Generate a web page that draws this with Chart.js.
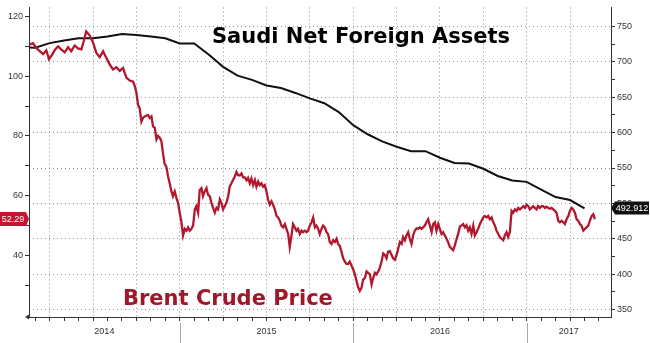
<!DOCTYPE html>
<html>
<head>
<meta charset="utf-8">
<title>Saudi Net Foreign Assets vs Brent Crude Price</title>
<script src="https://cdn.jsdelivr.net/npm/chart.js@4.4.1/dist/chart.umd.min.js"></script>
<style>
  html, body { margin: 0; padding: 0; background: #fff; }
  #wrap { width: 650px; height: 343px; }
</style>
</head>
<body>
<div id="wrap"><canvas id="chart" width="650" height="343"></canvas></div>
<script>
// Brent crude, daily closes thinned out (decimal year -> USD/bbl)
const brentTime = [
  2014.132, 2014.154, 2014.174, 2014.193, 2014.212, 2014.231, 2014.246, 2014.262, 2014.279, 2014.298, 2014.318, 2014.337,
  2014.356, 2014.375, 2014.394, 2014.413, 2014.433, 2014.446, 2014.461, 2014.481, 2014.500, 2014.520, 2014.539, 2014.558,
  2014.577, 2014.596, 2014.615, 2014.635, 2014.654, 2014.673, 2014.693, 2014.712, 2014.731, 2014.740, 2014.750, 2014.760,
  2014.769, 2014.779, 2014.788, 2014.798, 2014.817, 2014.827, 2014.837, 2014.846, 2014.856, 2014.866, 2014.875, 2014.885,
  2014.894, 2014.904, 2014.913, 2014.923, 2014.933, 2014.942, 2014.952, 2014.961, 2014.971, 2014.981, 2014.990, 2015.000,
  2015.010, 2015.019, 2015.029, 2015.039, 2015.048, 2015.058, 2015.067, 2015.077, 2015.087, 2015.096, 2015.106, 2015.115,
  2015.125, 2015.134, 2015.144, 2015.154, 2015.163, 2015.173, 2015.183, 2015.192, 2015.202, 2015.212, 2015.221, 2015.231,
  2015.240, 2015.250, 2015.260, 2015.269, 2015.279, 2015.288, 2015.298, 2015.307, 2015.317, 2015.327, 2015.336, 2015.346,
  2015.356, 2015.365, 2015.375, 2015.385, 2015.394, 2015.404, 2015.413, 2015.423, 2015.433, 2015.442, 2015.452, 2015.461,
  2015.471, 2015.480, 2015.490, 2015.500, 2015.509, 2015.519, 2015.529, 2015.538, 2015.548, 2015.558, 2015.567, 2015.577,
  2015.586, 2015.596, 2015.606, 2015.615, 2015.625, 2015.634, 2015.644, 2015.653, 2015.663, 2015.673, 2015.682, 2015.692,
  2015.702, 2015.711, 2015.721, 2015.731, 2015.740, 2015.750, 2015.760, 2015.769, 2015.779, 2015.788, 2015.798, 2015.807,
  2015.817, 2015.826, 2015.836, 2015.846, 2015.855, 2015.865, 2015.875, 2015.884, 2015.894, 2015.904, 2015.913, 2015.923,
  2015.932, 2015.942, 2015.952, 2015.961, 2015.971, 2015.980, 2015.990, 2015.999, 2016.009, 2016.019, 2016.028, 2016.038,
  2016.048, 2016.057, 2016.067, 2016.077, 2016.086, 2016.096, 2016.106, 2016.115, 2016.125, 2016.134, 2016.144, 2016.153,
  2016.163, 2016.173, 2016.182, 2016.192, 2016.201, 2016.211, 2016.221, 2016.230, 2016.240, 2016.250, 2016.259, 2016.269,
  2016.279, 2016.288, 2016.298, 2016.307, 2016.317, 2016.326, 2016.336, 2016.345, 2016.355, 2016.365, 2016.374, 2016.384,
  2016.394, 2016.403, 2016.413, 2016.422, 2016.432, 2016.442, 2016.452, 2016.461, 2016.471, 2016.480, 2016.490, 2016.499,
  2016.509, 2016.518, 2016.528, 2016.538, 2016.547, 2016.557, 2016.567, 2016.576, 2016.586, 2016.596, 2016.605, 2016.615,
  2016.624, 2016.634, 2016.644, 2016.653, 2016.663, 2016.672, 2016.682, 2016.692, 2016.701, 2016.711, 2016.720, 2016.730,
  2016.740, 2016.749, 2016.759, 2016.769, 2016.778, 2016.788, 2016.798, 2016.807, 2016.817, 2016.826, 2016.836, 2016.845,
  2016.855, 2016.865, 2016.874, 2016.884, 2016.893, 2016.903, 2016.913, 2016.922, 2016.932, 2016.942, 2016.951, 2016.961,
  2016.971, 2016.980, 2016.990, 2017.000, 2017.009, 2017.018, 2017.028, 2017.038, 2017.047, 2017.057, 2017.066, 2017.076,
  2017.086, 2017.095, 2017.105, 2017.115, 2017.124, 2017.134, 2017.144, 2017.153, 2017.163, 2017.172, 2017.182, 2017.191,
  2017.201, 2017.211, 2017.220, 2017.230, 2017.240, 2017.249, 2017.259, 2017.268, 2017.278, 2017.288, 2017.297, 2017.307,
  2017.316, 2017.326, 2017.336, 2017.345, 2017.355, 2017.364, 2017.374, 2017.384, 2017.393
];
const brentPrice = [
  110.5, 111.0, 109.3, 108.3, 107.3, 108.6, 105.6, 106.9, 108.6, 109.9, 108.8, 107.9,
  109.6, 108.3, 110.2, 109.2, 108.9, 111.5, 114.9, 113.5, 111.2, 107.6, 106.3, 108.3,
  106.0, 103.9, 102.2, 102.9, 101.7, 102.7, 99.4, 98.5, 98.1, 96.8, 94.5, 90.3,
  89.2, 84.8, 86.0, 86.5, 87.0, 86.0, 86.5, 83.2, 82.7, 78.9, 80.0, 79.4,
  78.3, 74.0, 70.7, 69.7, 66.4, 64.2, 61.5, 59.9, 61.5, 59.3, 57.7, 54.4,
  51.2, 46.8, 49.0, 48.4, 49.5, 48.4, 49.0, 50.1, 55.5, 56.6, 54.4, 62.0,
  62.6, 59.9, 61.5, 62.6, 60.4, 59.9, 57.7, 56.0, 54.4, 56.0, 55.5, 58.8,
  57.7, 55.5, 56.6, 57.7, 59.9, 63.1, 64.2, 65.3, 66.4, 68.0, 66.9, 66.8,
  67.5, 66.2, 66.2, 65.2, 66.0, 64.2, 65.8, 63.6, 65.3, 63.1, 64.8, 63.6,
  64.2, 63.1, 63.6, 61.5, 58.8, 57.1, 58.2, 57.1, 55.5, 53.3, 52.8, 51.7,
  50.1, 49.5, 50.6, 49.0, 47.3, 43.0, 46.8, 50.6, 49.5, 48.4, 49.0, 47.3,
  48.4, 47.9, 48.4, 47.9, 48.4, 50.1, 51.2, 52.8, 49.5, 50.1, 49.0, 47.3,
  49.0, 50.1, 49.5, 47.9, 47.3, 44.6, 44.0, 45.2, 44.6, 45.7, 44.0, 43.3,
  41.4, 39.2, 38.1, 37.3, 37.3, 38.1, 36.8, 35.6, 34.0, 31.6, 29.6, 28.3,
  29.4, 32.1, 32.6, 34.8, 34.3, 33.8, 30.5, 32.6, 34.3, 33.8, 34.8, 35.9,
  38.1, 40.8, 40.3, 39.2, 41.4, 41.6, 40.3, 39.2, 38.7, 40.3, 42.4, 44.6,
  44.0, 46.3, 45.2, 46.8, 47.9, 45.7, 44.0, 46.8, 48.4, 49.2, 49.0, 49.5,
  49.0, 49.5, 50.1, 51.2, 52.2, 50.1, 47.9, 50.6, 51.2, 48.4, 50.6, 49.0,
  47.3, 47.9, 46.8, 45.7, 44.6, 43.0, 42.4, 41.9, 43.5, 45.7, 47.3, 49.8,
  50.1, 50.6, 49.5, 50.2, 48.4, 49.5, 47.3, 50.1, 46.8, 47.9, 49.0, 50.6,
  51.7, 52.8, 53.3, 52.8, 53.3, 52.2, 52.8, 51.2, 50.1, 48.4, 47.3, 46.3,
  45.7, 45.2, 46.8, 47.9, 46.3, 47.9, 55.0, 54.4, 55.5, 55.0, 56.0, 55.5,
  56.0, 56.6, 56.0, 57.1, 56.6, 55.5, 56.0, 56.6, 56.0, 55.5, 56.6, 56.0,
  56.6, 56.6, 56.0, 56.4, 56.0, 55.7, 56.0, 55.5, 55.0, 54.4, 51.7, 51.2,
  51.7, 51.2, 50.6, 52.2, 53.3, 55.0, 56.0, 55.5, 54.4, 52.2, 51.7, 50.6,
  50.1, 48.4, 49.0, 49.5, 50.1, 51.7, 53.3, 53.9, 52.29
];

// Saudi (SAMA) net foreign assets at month end, USD bn
const nfaMonths = [
  '2014-01', '2014-02', '2014-03', '2014-04', '2014-05', '2014-06', '2014-07', '2014-08', '2014-09', '2014-10', '2014-11', '2014-12',
  '2015-01', '2015-02', '2015-03', '2015-04', '2015-05', '2015-06', '2015-07', '2015-08', '2015-09', '2015-10', '2015-11', '2015-12',
  '2016-01', '2016-02', '2016-03', '2016-04', '2016-05', '2016-06', '2016-07', '2016-08', '2016-09', '2016-10', '2016-11', '2016-12',
  '2017-01', '2017-02', '2017-03', '2017-04'
];
const nfaValues = [
  720.5, 720.0, 726.5, 730.3, 733.4, 733.4, 735.8, 739.5, 738.1, 735.8, 733.4, 726.1,
  726.1, 710.5, 693.0, 680.5, 674.6, 666.7, 663.0, 656.1, 648.4, 641.5, 629.0, 610.5,
  597.7, 587.6, 580.1, 573.8, 573.8, 564.5, 557.2, 556.2, 548.9, 538.7, 532.4, 530.4,
  519.4, 508.9, 504.7, 492.912
];

const yearLabels   = ['2014', '2015', '2016', '2017'];
const brentTicks   = [30, 40, 50, 60, 70, 80, 90, 100, 110, 120];
const nfaTicks     = [350, 375, 400, 425, 450, 475, 500, 525, 550, 575, 600, 625, 650, 675, 700, 725, 750];
const lastBrent    = '52.29';
const lastNfa      = '492.912';

const RED       = '#b3172e';
const TAG_RED   = '#c4122f';
const TEXT_RED  = '#a0172a';
const AXIS      = '#333333';
const DOTS      = '#8f8f8f';
const CLEAR     = 'rgba(0,0,0,0)';
const TICK_FONT = { family: '"Liberation Sans", Arial, sans-serif', size: 9 };

const X_MIN = 2014.131;
const X_MAX = 2017.486;

// month-end '2014-03' -> 2014.25
function monthEnd(s) {
  const [y, m] = s.split('-').map(Number);
  return y + m / 12;
}

// one tick per month along the bottom, the dotted grid only on quarters
function monthTicks() {
  const out = [];
  for (let m = Math.ceil(X_MIN * 12); m <= Math.floor(X_MAX * 12); m++) out.push({ value: m / 12 });
  return out;
}

function isQuarter(v) {
  return Math.round(v * 12) % 3 === 0;
}

// titles, year strip under the axis and the last-value tags
const overlay = {
  id: 'overlay',
  afterDraw(chart) {
    const ctx = chart.ctx;
    const area = chart.chartArea;
    const xs = chart.scales.x;
    const yl = chart.scales.y;
    const yr = chart.scales.y1;

    ctx.save();

    ctx.font = 'bold 21px "DejaVu Sans", Verdana, sans-serif';
    ctx.textAlign = 'left';
    ctx.textBaseline = 'alphabetic';
    ctx.fillStyle = '#000';
    ctx.fillText('Saudi Net Foreign Assets', 212, 43);
    ctx.fillStyle = TEXT_RED;
    ctx.fillText('Brent Crude Price', 123, 305);

    // year separators + centred year labels
    const edges = [area.left];
    for (let i = 1; i < yearLabels.length; i++) edges.push(xs.getPixelForValue(Number(yearLabels[i])));
    edges.push(area.right);

    ctx.strokeStyle = '#a8a8a8';
    ctx.lineWidth = 1;
    for (let i = 1; i < edges.length - 1; i++) {
      const px = Math.round(edges[i]) + 0.5;
      ctx.beginPath();
      ctx.moveTo(px, area.bottom + 6);
      ctx.lineTo(px, 343);
      ctx.stroke();
    }
    ctx.fillStyle = AXIS;
    ctx.font = '9px "Liberation Sans", Arial, sans-serif';
    ctx.textAlign = 'center';
    ctx.textBaseline = 'middle';
    yearLabels.forEach((lbl, i) => {
      ctx.fillText(lbl, (edges[i] + edges[i + 1]) / 2, 332);
    });

    // little end marker at the bottom-left of the axis
    ctx.fillStyle = AXIS;
    ctx.beginPath();
    ctx.moveTo(area.left - 4, area.bottom);
    ctx.lineTo(area.left, area.bottom - 2.5);
    ctx.lineTo(area.left, area.bottom + 2.5);
    ctx.closePath();
    ctx.fill();

    ctx.font = '9px "Liberation Sans", Arial, sans-serif';

    // Brent tag on the left axis
    const by = Math.round(yl.getPixelForValue(Number(lastBrent)));
    ctx.fillStyle = TAG_RED;
    ctx.beginPath();
    ctx.moveTo(0, by - 7);
    ctx.lineTo(26, by - 7);
    ctx.lineTo(area.left, by);
    ctx.lineTo(26, by + 7);
    ctx.lineTo(0, by + 7);
    ctx.closePath();
    ctx.fill();
    ctx.fillStyle = '#fff';
    ctx.fillText(lastBrent, 13, by + 0.5);

    // net foreign assets tag on the right axis
    const ny = Math.round(yr.getPixelForValue(Number(lastNfa)));
    ctx.fillStyle = '#111';
    ctx.beginPath();
    ctx.moveTo(area.right, ny);
    ctx.lineTo(area.right + 4, ny - 6.5);
    ctx.lineTo(649, ny - 6.5);
    ctx.lineTo(649, ny + 6.5);
    ctx.lineTo(area.right + 4, ny + 6.5);
    ctx.closePath();
    ctx.fill();
    ctx.fillStyle = '#fff';
    ctx.fillText(lastNfa, (area.right + 4 + 649) / 2, ny + 0.5);

    ctx.restore();
  }
};

const brentPoints = brentTime.map((t, i) => ({ x: t, y: brentPrice[i] }));
const nfaPoints   = nfaMonths.map((m, i) => ({ x: monthEnd(m), y: nfaValues[i] }));

new Chart(document.getElementById('chart').getContext('2d'), {
  type: 'line',
  data: {
    datasets: [
      {
        label: 'Brent Crude Price',
        data: brentPoints,
        yAxisID: 'y',
        borderColor: RED,
        borderWidth: 2.3,
        pointRadius: 0,
        tension: 0,
        order: 0,
      },
      {
        label: 'Saudi Net Foreign Assets',
        data: nfaPoints,
        yAxisID: 'y1',
        borderColor: '#111',
        borderWidth: 2,
        pointRadius: 0,
        tension: 0,
        order: 1,
      },
    ],
  },
  options: {
    responsive: false,
    animation: false,
    devicePixelRatio: 1,
    layout: { padding: 0 },
    plugins: {
      legend: { display: false },
      tooltip: { enabled: false },
    },
    scales: {
      x: {
        type: 'linear',
        min: X_MIN,
        max: X_MAX,
        afterBuildTicks: s => { s.ticks = monthTicks(); },
        afterFit: s => { s.height = 26; },
        ticks: { display: false },
        grid: {
          color: c => (c.tick && isQuarter(c.tick.value) ? DOTS : CLEAR),
          tickColor: AXIS,
          tickLength: 4,
        },
        border: { display: true, color: AXIS, width: 1, dash: [1, 3] },
      },
      y: {
        position: 'left',
        min: 19.6,
        max: 122.9,
        afterBuildTicks: s => { s.ticks = brentTicks.map(v => ({ value: v })); },
        afterFit: s => { s.width = 29; },
        ticks: {
          autoSkip: false,
          color: AXIS,
          font: TICK_FONT,
          padding: 2,
          callback: v => (v % 20 === 0 ? String(v) : ''),
        },
        grid: { drawOnChartArea: false, tickColor: AXIS, tickLength: 4 },
        border: { display: true, color: AXIS, width: 1 },
      },
      y1: {
        position: 'right',
        min: 339.4,
        max: 777,
        afterBuildTicks: s => { s.ticks = nfaTicks.map(v => ({ value: v })); },
        afterFit: s => { s.width = 39; },
        ticks: {
          autoSkip: false,
          color: AXIS,
          font: TICK_FONT,
          padding: 2,
          callback: v => (v % 50 === 0 ? String(v) : ''),
        },
        grid: {
          color: c => (c.tick && c.tick.value % 50 === 0 ? DOTS : CLEAR),
          tickColor: AXIS,
          tickLength: 4,
        },
        border: { display: true, color: AXIS, width: 1, dash: [1, 3] },
      },
    },
  },
  plugins: [overlay],
});
</script>
</body>
</html>
